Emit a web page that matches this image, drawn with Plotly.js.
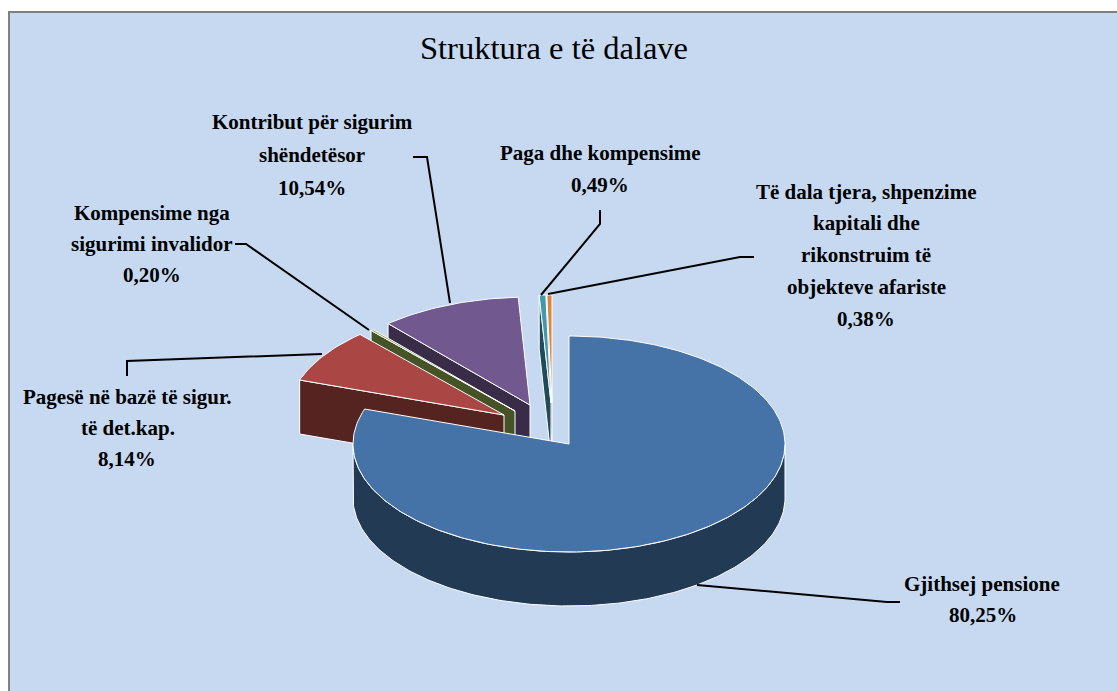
<!DOCTYPE html>
<html>
<head>
<meta charset="utf-8">
<script src="https://cdn.plot.ly/plotly-3.0.1.min.js"></script>
<style>html,body{margin:0;padding:0;background:#fff}</style>
</head>
<body>
<div id="chart" style="width:1117px;height:691px"></div>
<script>
// Data
const titleText = "Struktura e të dalave";
const categories = ["Gjithsej pensione", "Pagesë në bazë të sigur. të det.kap.", "Kompensime nga sigurimi invalidor", "Kontribut për sigurim shëndetësor", "Paga dhe kompensime", "Të dala tjera, shpenzime kapitali dhe rikonstruim të objekteve afariste"];
const shares = [80.25, 8.14, 0.20, 10.54, 0.49, 0.38];
const percentLabels = ["80,25%", "8,14%", "0,20%", "10,54%", "0,49%", "0,38%"];

// Styles
const topColors = ["#4573A7", "#AA4643", "#89A54E", "#71588F", "#4198AF", "#DB843D"];
const wallColors = ["#233A55", "#552320", "#465326", "#392C48", "#1F4C58", "#8A6A4A"];

// Pie geometry (pixels of the hidden 1117x691 axes)
const centre = [569, 444], rx = 216, ry = 108, depth = 54;
const sliceOffsets = [[0, 0], [-65, -29], [-54, -33], [-39, -39], [-18, -41], [-17, -41]];

// Label layout: lines of text with their centre positions
const labelLines = [
  ["Kontribut për sigurim", 312, 122], ["shëndetësor", 312, 155], [percentLabels[3], 312, 188],
  ["Paga dhe kompensime", 600, 153], [percentLabels[4], 600, 185],
  ["Të dala tjera, shpenzime", 866, 192], ["kapitali dhe", 866, 223], ["rikonstruim të", 866, 255], ["objekteve afariste", 866, 287], [percentLabels[5], 866, 319],
  ["Kompensime nga", 152, 213], ["sigurimi invalidor", 152, 244], [percentLabels[2], 152, 275],
  ["Pagesë në bazë të sigur.", 127, 397], ["të det.kap.", 128, 428], [percentLabels[1], 127, 459],
  ["Gjithsej pensione", 982, 584], [percentLabels[0], 983, 615]
];
const leaders = [
  [[413, 157], [427, 157], [450, 303]],
  [[600, 210], [600, 224], [541, 295]],
  [[754, 257], [740, 257], [548, 294]],
  [[235, 244], [246, 244], [369, 330]],
  [[127, 376], [127, 361], [322, 354]],
  [[900, 602], [887, 602], [697, 585]]
];

function pt(c, deg, dy) {
  const a = deg * Math.PI / 180;
  return [c[0] + rx * Math.sin(a), c[1] - ry * Math.cos(a) + (dy || 0)];
}
function arc(c, from, to, dy) {
  const out = [], n = Math.max(2, Math.ceil(Math.abs(to - from)));
  for (let i = 0; i <= n; i++) out.push(pt(c, from + (to - from) * i / n, dy));
  return out;
}
function poly(points, fill) {
  return {
    type: "scatter", mode: "lines", x: points.map(p => p[0]), y: points.map(p => p[1]),
    fill: "toself", fillcolor: fill, line: {color: "#FFFFFF", width: 1},
    hoverinfo: "skip", showlegend: false
  };
}

const total = shares.reduce((a, b) => a + b, 0);
let acc = 0;
const slices = shares.map((v, i) => {
  const start = acc / total * 360; acc += v; const end = acc / total * 360;
  return {start, end, c: [centre[0] + sliceOffsets[i][0], centre[1] + sliceOffsets[i][1]]};
});

const traces = [];
// Back to front: the smallest exploded wedge first, the big slice last
for (let i = shares.length - 1; i >= 1; i--) {
  const s = slices[i];
  const edge = pt(s.c, s.start);
  traces.push(poly([edge, s.c, [s.c[0], s.c[1] + depth], [edge[0], edge[1] + depth], edge], wallColors[i]));
  traces.push(poly([s.c].concat(arc(s.c, s.start, s.end)).concat([s.c]), topColors[i]));
}
const big = slices[0];
traces.push(poly(arc(big.c, 90, 270).concat(arc(big.c, 270, 90, depth)).concat([pt(big.c, 90)]), wallColors[0]));
traces.push(poly([big.c].concat(arc(big.c, big.start, big.end)).concat([big.c]), topColors[0]));

leaders.forEach(l => traces.push({
  type: "scatter", mode: "lines", x: l.map(p => p[0]), y: l.map(p => p[1]),
  line: {color: "#000000", width: 2}, hoverinfo: "skip", showlegend: false
}));

const annotations = labelLines.map(l => ({
  text: "<b>" + l[0] + "</b>", x: l[1], y: l[2], xref: "x", yref: "y",
  xanchor: "center", yanchor: "middle", showarrow: false, font: {family: "Liberation Serif", size: 21, color: "#000000"}
}));
annotations.push({
  text: titleText, x: 554, y: 48, xref: "x", yref: "y", xanchor: "center", yanchor: "middle",
  showarrow: false, font: {family: "Liberation Serif", size: 32.5, color: "#000000"}
});

const hidden = {visible: false, fixedrange: true};
const layout = {
  width: 1117, height: 691, margin: {l: 0, r: 0, t: 0, b: 0},
  paper_bgcolor: "#FFFFFF", plot_bgcolor: "#FFFFFF", showlegend: false,
  xaxis: Object.assign({range: [0, 1117]}, hidden),
  yaxis: Object.assign({range: [691, 0]}, hidden),
  shapes: [{type: "rect", xref: "x", yref: "y", x0: 9, y0: 12, x1: 1130, y1: 700, fillcolor: "#C6D9F1", line: {color: "#808080", width: 2}, layer: "below"}],
  annotations
};
Plotly.newPlot("chart", traces, layout, {displayModeBar: false, staticPlot: true});
</script>
</body>
</html>
